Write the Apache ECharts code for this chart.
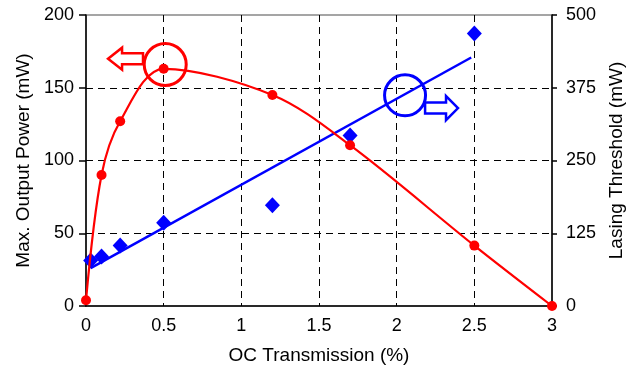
<!DOCTYPE html>
<html>
<head>
<meta charset="utf-8">
<script src="https://cdn.jsdelivr.net/npm/echarts@6/dist/echarts.min.js"></script>
<style>
html,body{margin:0;padding:0;background:#fff;}
#c{width:638px;height:371px;}
</style>
</head>
<body>
<div id="c"></div>
<script>
// ---- data ----
var powerX = [0, 0.1, 0.22, 0.5, 1.2, 1.7, 2.5, 3];
var powerY = [4, 90, 127, 163, 145, 110.5, 41.5, 0];
var thresholdX = [0.03, 0.1, 0.22, 0.5, 1.2, 1.7, 2.5];
var thresholdY = [78, 85, 104, 143, 173, 293, 468];
var fitX = [0.03, 2.48];
var fitY = [65, 427];
var xTicks = [0, 0.5, 1, 1.5, 2, 2.5, 3];
var leftTicks = [0, 50, 100, 150, 200];
var rightTicks = [0, 125, 250, 375, 500];

// annotation anchors (data coordinates)
var redCircleAt = [0.51, 166];      // left axis
var redArrowFrom = [0.367, 170];    // tail
var redArrowTo = [0.142, 170];      // tip
var blueCircleAt = [2.054, 362];    // right axis
var blueArrowFrom = [2.183, 340];
var blueArrowTo = [2.395, 340];

function pairs(xs, ys){ return xs.map(function(x,i){ return [x, ys[i]]; }); }

var font = 'Liberation Sans, Arial, sans-serif';
var chart = echarts.init(document.getElementById('c'), null, {renderer:'canvas'});
var option = {
  animation:false,
  backgroundColor:'#fff',
  grid:{left:86,right:86,top:15,bottom:65,show:true,borderColor:'#888',borderWidth:1.5,backgroundColor:'transparent'},
  xAxis:{
    type:'value', min:xTicks[0], max:xTicks[xTicks.length-1], interval:0.5,
    name:'OC Transmission (%)', nameLocation:'middle', nameGap:40,
    nameTextStyle:{fontFamily:font,fontSize:19,color:'#000'},
    axisLine:{show:true,onZero:false,lineStyle:{color:'#000',width:1.5}},
    axisTick:{show:false},
    axisLabel:{fontFamily:font,fontSize:18,color:'#000',margin:11,
      formatter:function(v){return String(v);}},
    splitLine:{show:true,showMinLine:false,showMaxLine:false,lineStyle:{color:'#000',type:[7,5],width:1}}
  },
  yAxis:[{
    type:'value', min:leftTicks[0], max:leftTicks[leftTicks.length-1], interval:50, position:'left',
    name:'Max. Output Power (mW)', nameLocation:'middle', nameGap:48,
    nameTextStyle:{fontFamily:font,fontSize:19,color:'#000'},
    axisLine:{show:true,lineStyle:{color:'#000',width:1.5}},
    axisTick:{show:true,length:7,lineStyle:{color:'#000',width:1.5}},
    axisLabel:{fontFamily:font,fontSize:18,color:'#000',margin:12},
    splitLine:{show:true,showMinLine:false,showMaxLine:false,lineStyle:{color:'#000',type:[7,5],width:1}}
  },{
    type:'value', min:rightTicks[0], max:rightTicks[rightTicks.length-1], interval:125, position:'right',
    name:'Lasing Threshold (mW)', nameLocation:'middle', nameGap:55, nameRotate:90,
    nameTextStyle:{fontFamily:font,fontSize:19,color:'#000'},
    axisLine:{show:true,lineStyle:{color:'#000',width:1.5}},
    axisTick:{show:true,length:5,lineStyle:{color:'#000',width:1.5}},
    axisLabel:{fontFamily:font,fontSize:18,color:'#000',margin:14},
    splitLine:{show:false}
  }],
  series:[
    {type:'line', name:'fit', yAxisIndex:1, data:pairs(fitX, fitY), showSymbol:false, symbol:'none',
     lineStyle:{color:'#0000ff',width:2.5}, z:3},
    {type:'scatter', name:'threshold', yAxisIndex:1, data:pairs(thresholdX, thresholdY), symbol:'diamond',
     symbolSize:[15,16], itemStyle:{color:'#0000ff',opacity:1}, z:4},
    {type:'line', name:'power', yAxisIndex:0, data:pairs(powerX, powerY), smooth:0.33,
     symbol:'circle', symbolSize:10, showAllSymbol:true,
     lineStyle:{color:'#ff0000',width:2.2}, itemStyle:{color:'#ff0000',opacity:1}, z:5}
  ]
};
chart.setOption(option);

function arrow(p0, p1, hl, hh, bh){
  var dir = p1[0] > p0[0] ? 1 : -1;
  var yc = (p0[1] + p1[1]) / 2;
  var hb = p1[0] - dir*hl;
  return [[p1[0],yc],[hb,yc-hh],[hb,yc-bh],[p0[0],yc-bh],[p0[0],yc+bh],[hb,yc+bh],[hb,yc+hh]];
}
var rc = chart.convertToPixel({xAxisIndex:0,yAxisIndex:0}, redCircleAt);
var ra0 = chart.convertToPixel({xAxisIndex:0,yAxisIndex:0}, redArrowFrom);
var ra1 = chart.convertToPixel({xAxisIndex:0,yAxisIndex:0}, redArrowTo);
var bc = chart.convertToPixel({xAxisIndex:0,yAxisIndex:1}, blueCircleAt);
var ba0 = chart.convertToPixel({xAxisIndex:0,yAxisIndex:1}, blueArrowFrom);
var ba1 = chart.convertToPixel({xAxisIndex:0,yAxisIndex:1}, blueArrowTo);
chart.setOption({graphic:[
  {type:'circle', shape:{cx:rc[0],cy:rc[1],r:21}, style:{fill:'none',stroke:'#ff0000',lineWidth:3}, z:10},
  {type:'polygon', shape:{points:arrow(ra0, ra1, 14, 11, 5.5)}, style:{fill:'#fff',stroke:'#ff0000',lineWidth:2.5}, z:10},
  {type:'circle', shape:{cx:bc[0],cy:bc[1],r:20.5}, style:{fill:'none',stroke:'#0000ff',lineWidth:3}, z:10},
  {type:'polygon', shape:{points:arrow(ba0, ba1, 12, 12, 5.5)}, style:{fill:'#fff',stroke:'#0000ff',lineWidth:2.5}, z:10}
]});
</script>
</body>
</html>
